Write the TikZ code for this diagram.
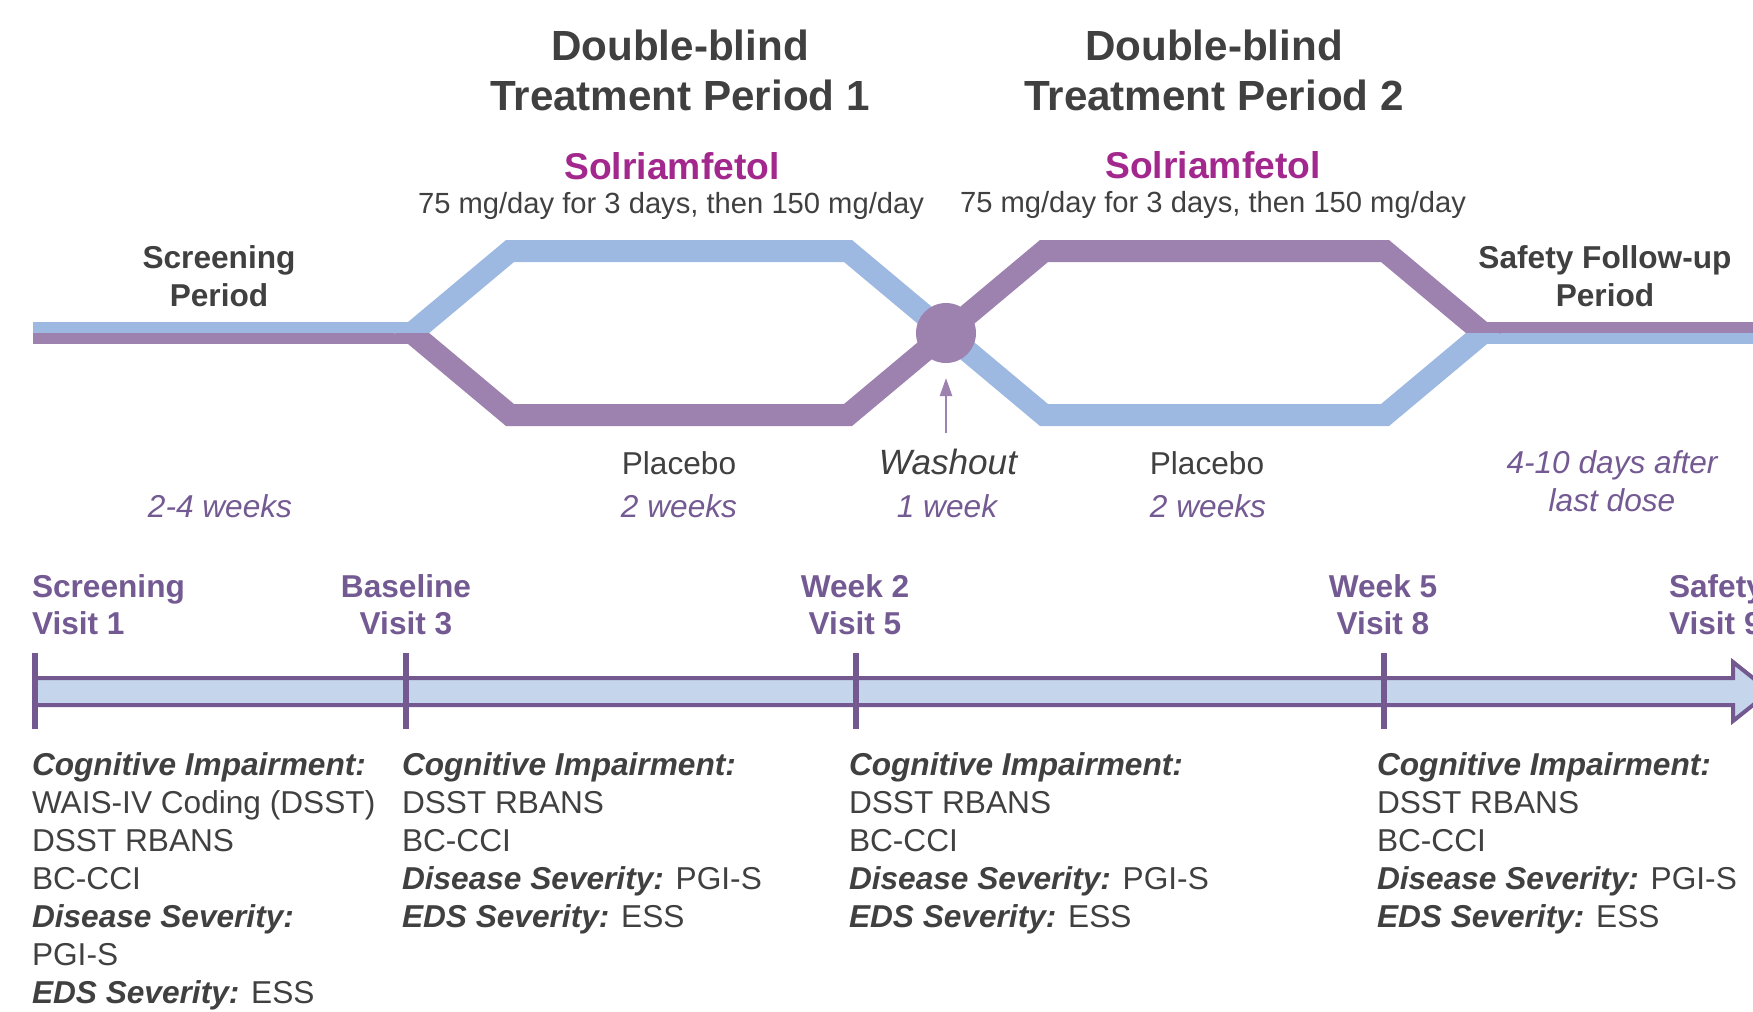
\documentclass[tikz,border=0pt]{standalone}
\usepackage{fontspec}
\setmainfont{Liberation Sans}
\usetikzlibrary{arrows.meta,calc}

\definecolor{textgray}{HTML}{404040}
\definecolor{drugmagenta}{HTML}{A3288E}
\definecolor{labelpurple}{HTML}{745A92}
\definecolor{armblue}{HTML}{9DB9E1}
\definecolor{armpurple}{HTML}{9D82AF}
\definecolor{barfill}{HTML}{C5D5EC}
\definecolor{barline}{HTML}{735990}

\newcommand{\asshead}[1]{\textbf{\textit{#1}}}

\begin{document}
\begin{tikzpicture}[
    x=0.1mm, y=-0.1mm, % 以像素為單位
    font=\fontsize{9}{10.8}\selectfont,
    inner sep=0pt, outer sep=0pt,
    >={Triangle[length=1.8mm, width=1.2mm]}, % 箭頭樣式
    % --- 樣式定義 ---
    % 標題文字(多行節點以最後一行為基線)
    title text/.style={font=\bfseries\fontsize{12}{14.2}\selectfont, text=textgray, align=center, anchor=base},
    drug text/.style={font=\bfseries\fontsize{10.6}{12}\selectfont, text=drugmagenta, anchor=base},
    dose text/.style={font=\fontsize{8.3}{10}\selectfont, text=textgray, anchor=base},
    period text/.style={font=\bfseries\fontsize{9}{10.8}\selectfont, text=textgray, align=center, anchor=base},
    arm text/.style={text=textgray, anchor=base},
    span text/.style={font=\itshape\fontsize{9}{10.8}\selectfont, text=labelpurple, align=center, anchor=base},
    visit text/.style={font=\bfseries\fontsize{9}{10.25}\selectfont, text=labelpurple, align=center, anchor=base},
    assess text/.style={text=textgray, align=left, anchor=base west},
    % --- 線條樣式 ---
    blue arm/.style={draw=armblue, line width=2.2mm},
    purple arm/.style={draw=armpurple, line width=2.2mm},
    blue lead/.style={draw=armblue, line width=1.1mm},
    purple lead/.style={draw=armpurple, line width=1.1mm},
    tick mark/.style={draw=barline, line width=0.6mm},
    timeline/.style={draw=barline, fill=barfill, line width=0.4mm}
]
    \useasboundingbox (0,0) rectangle (1753,1011);

    % ====== 交叉設計的節點 ======
    \coordinate (lead start) at (33,333);
    \coordinate (split) at (412,333);
    \coordinate (p1 ul) at (510,251);
    \coordinate (p1 ur) at (848,251);
    \coordinate (p1 ll) at (510,415);
    \coordinate (p1 lr) at (848,415);
    \coordinate (cross) at (946,333);
    \coordinate (p2 ul) at (1044,251);
    \coordinate (p2 ur) at (1385,251);
    \coordinate (p2 ll) at (1044,415);
    \coordinate (p2 lr) at (1385,415);
    \coordinate (merge) at (1483,333);
    \coordinate (lead end) at (1753,333);

    % 左右兩側的細線
    \draw[blue lead] ([yshift=0.55mm]lead start) -- ([yshift=0.55mm]split);
    \draw[purple lead] ([yshift=-0.55mm]lead start) -- ([yshift=-0.55mm]split);
    \draw[purple lead] ([yshift=0.55mm]merge) -- ([yshift=0.55mm]lead end);
    \draw[blue lead] ([yshift=-0.55mm]merge) -- ([yshift=-0.55mm]lead end);

    % 治療期 1
    \begin{scope}
        \clip (0,0) rectangle (1753,333);
        \draw[blue arm] ($(split)!-0.3!(p1 ul)$) -- (p1 ul) -- (p1 ur) -- (cross);
    \end{scope}
    \begin{scope}
        \clip (0,333) rectangle (1753,1011);
        \draw[purple arm] ($(split)!-0.3!(p1 ll)$) -- (p1 ll) -- (p1 lr) -- (cross);
    \end{scope}

    % 治療期 2
    \begin{scope}
        \clip (0,0) rectangle (1753,333);
        \draw[purple arm] (cross) -- (p2 ul) -- (p2 ur) -- ($(merge)!-0.3!(p2 ur)$);
    \end{scope}
    \begin{scope}
        \clip (0,333) rectangle (1753,1011);
        \draw[blue arm] (cross) -- (p2 ll) -- (p2 lr) -- ($(merge)!-0.3!(p2 lr)$);
    \end{scope}

    % 洗脫期圓點與箭頭
    \node[circle, fill=armpurple, minimum size=6mm] (washout dot) at (cross) {};
    \coordinate (washout tail) at (946,433);
    \draw[->, draw=armpurple, fill=armpurple, line width=0.25mm, shorten >=1.5mm] (washout tail) -- (washout dot);

    % ====== 上方標籤 ======
    \node[title text] (title1) at (680,110) {Double-blind\\Treatment Period 1};
    \node[title text] (title2) at (1214,110) {Double-blind\\Treatment Period 2};

    \node[drug text] (drug1) at (672,179) {Solriamfetol};
    \node[drug text] (drug2) at (1213,178) {Solriamfetol};
    \node[dose text] (dose1) at (671,213) {75 mg/day for 3 days, then 150 mg/day};
    \node[dose text] (dose2) at (1213,212) {75 mg/day for 3 days, then 150 mg/day};

    \node[period text] (screen period) at (219,306) {Screening\\Period};
    \node[period text] (safety period) at (1605,306) {Safety Follow-up\\Period};

    % 期間長度
    \node[arm text] (placebo1) at (679,474) {Placebo};
    \node[arm text, font=\itshape] (washout) at (948,474) {Washout};
    \node[arm text] (placebo2) at (1207,474) {Placebo};
    \node[span text] (screen span) at (220,517) {2-4 weeks};
    \node[span text] (p1 span) at (679,517) {2 weeks};
    \node[span text] (washout span) at (947,517) {1 week};
    \node[span text] (p2 span) at (1208,517) {2 weeks};
    \node[span text] (safety span) at (1612,511) {4-10 days after\\last dose};

    % ====== 時間軸 ======
    \draw[timeline] (34,678) -- (1733,678) -- (1733,662) -- (1770,691.5)
        -- (1733,721) -- (1733,705) -- (34,705) -- cycle;
    \draw[tick mark] (34.5,653) -- (34.5,729);
    \draw[tick mark] (406,653) -- (406,729);
    \draw[tick mark] (855.5,653) -- (855.5,729);
    \draw[tick mark] (1384,653) -- (1384,729);

    % 訪視標籤
    \node[visit text, align=left, anchor=base west] (visit1) at (32,634) {Screening\\Visit 1};
    \node[visit text] (visit3) at (406,634) {Baseline\\Visit 3};
    \node[visit text] (visit5) at (855,634) {Week 2\\Visit 5};
    \node[visit text] (visit8) at (1383,634) {Week 5\\Visit 8};
    \node[visit text, align=left, anchor=base west] (visit9) at (1669,634) {Safety\\Visit 9};

    % ====== 評估項目 ======
    \node[assess text] (assess1) at (32,1003) {\asshead{Cognitive Impairment:}\\WAIS-IV Coding (DSST)\\DSST RBANS\\BC-CCI\\\asshead{Disease Severity:}\\PGI-S\\\asshead{EDS Severity:} ESS};
    \node[assess text] (assess3) at (402,927) {\asshead{Cognitive Impairment:}\\DSST RBANS\\BC-CCI\\\asshead{Disease Severity:} PGI-S\\\asshead{EDS Severity:} ESS};
    \node[assess text] (assess5) at (849,927) {\asshead{Cognitive Impairment:}\\DSST RBANS\\BC-CCI\\\asshead{Disease Severity:} PGI-S\\\asshead{EDS Severity:} ESS};
    \node[assess text] (assess8) at (1377,927) {\asshead{Cognitive Impairment:}\\DSST RBANS\\BC-CCI\\\asshead{Disease Severity:} PGI-S\\\asshead{EDS Severity:} ESS};

\end{tikzpicture}
\end{document}
